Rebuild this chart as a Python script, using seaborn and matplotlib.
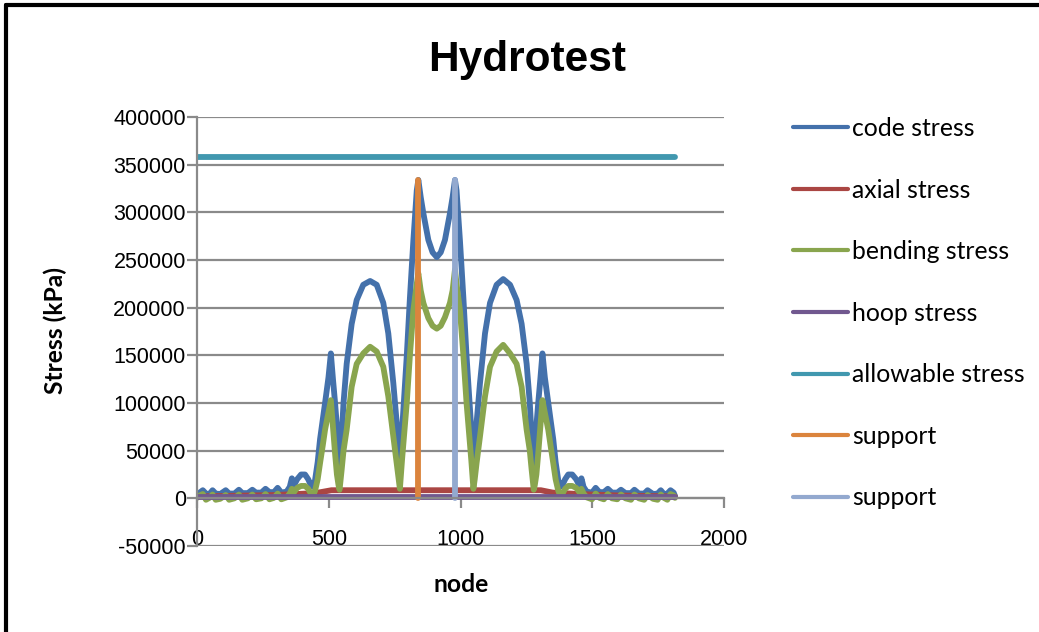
import matplotlib
matplotlib.use("Agg")
import matplotlib.pyplot as plt
from matplotlib import font_manager
from matplotlib.font_manager import FontProperties
from matplotlib.lines import Line2D
import seaborn as sns

# ---- data -------------------------------------------------------------
nodes = [
    0, 10, 22, 34, 47, 59, 71, 88, 109, 122, 142, 159, 172, 193, 210, 224, 244, 260, 275, 292, 306, 320, 340, 352,
    360, 367, 380, 395, 410, 422, 432, 441, 448, 458, 467, 477, 486, 499, 508, 516, 524, 531, 537, 541,
    549, 556, 568, 587, 606, 631, 657, 682, 707, 726, 745, 758, 765, 770,
    778, 787, 796, 808, 821, 834, 840, 849, 859, 878, 894, 910, 925, 941, 960, 970, 979, 985, 998, 1011, 1023, 1032, 1041,
    1049, 1054, 1061, 1074, 1093, 1112, 1137, 1162, 1188, 1213, 1232, 1251, 1263, 1270,
    1278, 1282, 1288, 1295, 1303, 1311, 1320, 1333, 1342, 1352, 1361, 1371, 1378, 1387, 1397, 1409, 1424, 1439, 1452, 1459,
    1467, 1479, 1499, 1513, 1527, 1544, 1559, 1575, 1595, 1609, 1626, 1647, 1660, 1677, 1697, 1710, 1731, 1748, 1760, 1772, 1785, 1797, 1809, 1814,
]
code_stress = [
    2500, 6000, 8500, 5000, 4500, 8500, 5000, 4500, 8500, 5000, 5000, 9000, 5500, 5500, 9000, 6000, 6000, 10000, 6500, 6500, 11000, 6000, 7000, 12000,
    21000, 13000, 20000, 25000, 25000, 20000, 14000, 12000, 19000, 38000, 62000, 82000, 100000, 127000, 152000, 125000, 100000, 76000, 54000, 36000,
    64000, 100000, 141000, 183000, 208000, 224000, 228000, 224000, 205000, 173000, 121000, 79000, 55000, 38000,
    70000, 110000, 149000, 210000, 270000, 323000, 334000, 316000, 299000, 271000, 258000, 253000, 258000, 271000, 299000, 316000, 334000, 323000, 270000, 210000, 149000, 110000, 70000,
    38000, 55000, 79000, 121000, 173000, 205000, 224000, 230000, 224000, 208000, 183000, 141000, 100000, 64000,
    36000, 54000, 76000, 100000, 125000, 152000, 127000, 100000, 82000, 62000, 38000, 19000, 12000, 14000, 20000, 25000, 25000, 20000, 13000, 21000,
    12000, 7000, 6000, 11000, 6500, 6500, 10000, 6000, 6000, 9000, 5500, 5500, 9000, 5000, 5000, 8500, 4500, 5000, 8500, 4500, 5000, 8500, 6000, 2500,
]
bending_stress = [
    500, 3000, 4500, -1500, 500, 4000, -1500, -500, 3500, -1500, 0, 4000, -1500, 0, 4000, -1000, 0, 4500, -1000, 500, 5000, -1000, 1000, 5000,
    10000, 6000, 11000, 13000, 13000, 10000, 5000, 3000, 8000, 20000, 37000, 55000, 72000, 90000, 103000, 75000, 47000, 25000, 14000, 9000,
    30000, 50000, 72000, 117000, 141000, 152000, 159000, 154000, 138000, 107000, 65000, 37000, 20000, 10000,
    40000, 70000, 100000, 150000, 197000, 225000, 236000, 218000, 205000, 189000, 181000, 178000, 181000, 190000, 205000, 218000, 240000, 225000, 197000, 150000, 100000, 70000, 40000,
    10000, 20000, 37000, 65000, 107000, 138000, 154000, 161000, 152000, 141000, 117000, 72000, 50000, 30000,
    9000, 14000, 25000, 47000, 75000, 103000, 90000, 72000, 55000, 37000, 20000, 8000, 3000, 5000, 10000, 13000, 13000, 11000, 6000, 10000,
    5000, 1000, -1000, 5000, 500, -1000, 4500, 0, -1000, 4000, 0, -1500, 4000, 0, -1500, 3500, -500, -1500, 4000, 500, -1500, 4500, 3000, 500,
]

axial_nodes = [0, 300, 450, 510, 1305, 1350, 1450, 1600, 1814]
axial_stress = [2000, 3500, 5500, 8500, 8500, 6000, 4500, 3000, 2000]

hoop_nodes = [0, 1814]
hoop_stress = [1500, 1500]

allowable_nodes = [0, 1814]
allowable_stress = [358000, 358000]

support1_nodes = [840, 840]
support2_nodes = [979, 979]
support_stress = [0, 334000]

y_ticks = list(range(-50000, 400001, 50000))
x_ticks = [0, 500, 1000, 1500, 2000]

# ---- style ------------------------------------------------------------
sns.set_theme(style="white")
names = {f.name for f in font_manager.fontManager.ttflist}
label_font = "Lato" if "Lato" in names else "DejaVu Sans"
plt.rcParams["font.family"] = ["Liberation Sans", "DejaVu Sans"]
plt.rcParams["text.color"] = "black"

fig = plt.figure(figsize=(10.39, 6.32), dpi=100)
renderer = fig.canvas.get_renderer()


def fit_size(text, props, target_px):
    """Font size (pt) at which `text` is target_px wide."""
    p = props.copy()
    p.set_size(20)
    t = fig.text(0, 0, text, fontproperties=p)
    w = t.get_window_extent(renderer).width
    t.remove()
    return 20 * target_px / w


tick_size = 15.5
title_props = FontProperties(family="Liberation Sans", weight="bold")
title_size = fit_size("Hydrotest", title_props, 198)
axis_props = FontProperties(family=label_font, weight="bold")
axis_size = fit_size("Stress (kPa)", axis_props, 127)
legend_props = FontProperties(family=label_font)
legend_size = fit_size("allowable stress", legend_props, 172)

ax = fig.add_axes([197 / 1039, 86 / 632, 527 / 1039, 429 / 632])

grid_col = "#8a8a8a"
lw = 4.2
series = [
    (nodes, code_stress, "code stress", "#4471AB"),
    (axial_nodes, axial_stress, "axial stress", "#AA4643"),
    (nodes, bending_stress, "bending stress", "#89A54E"),
    (hoop_nodes, hoop_stress, "hoop stress", "#71588F"),
    (allowable_nodes, allowable_stress, "allowable stress", "#4198AF"),
    (support1_nodes, support_stress, "support", "#DB843D"),
    (support2_nodes, support_stress, "support", "#93A9CF"),
]
for xs, ys, name, col in series:
    sns.lineplot(x=xs, y=ys, ax=ax, color=col, linewidth=lw, sort=False, estimator=None,
                 label=name, solid_capstyle="round", solid_joinstyle="round")

ax.set_xlim(0, 2000)
ax.set_ylim(-50000, 400000)
ax.set_yticks(y_ticks)
ax.set_yticklabels([str(v) for v in y_ticks])
ax.set_xticks(x_ticks)
ax.set_xticklabels([str(v) for v in x_ticks])
ax.yaxis.grid(True, color=grid_col, lw=1.6)
ax.xaxis.grid(False)
ax.set_axisbelow(True)

for side in ("top", "right"):
    ax.spines[side].set_visible(False)
ax.spines["bottom"].set_position(("data", 0))
for side in ("left", "bottom"):
    ax.spines[side].set_color(grid_col)
    ax.spines[side].set_linewidth(1.6)

ax.tick_params(axis="y", direction="out", length=7, width=1.6, color=grid_col, pad=1,
               left=True, labelsize=tick_size, labelcolor="black")
ax.tick_params(axis="x", direction="out", length=7, width=1.6, color=grid_col, pad=15,
               bottom=True, labelsize=tick_size, labelcolor="black")

ax.set_xlabel("")
ax.set_ylabel("")
fig.text(461 / 1039, 1 - 585 / 632, "node", ha="center", va="center", color="black",
         fontproperties=axis_props, fontsize=axis_size)
fig.text(55 / 1039, 1 - 331 / 632, "Stress (kPa)", ha="center", va="center", rotation=90,
         color="black", fontproperties=axis_props, fontsize=axis_size)

fig.text(527 / 1039, 1 - 71 / 632, "Hydrotest", ha="center", va="baseline", color="black",
         fontproperties=title_props, fontsize=title_size)

handles, labels = ax.get_legend_handles_labels()
ax.get_legend().remove()
legend_px = legend_size * 100 / 72
leg = fig.legend(handles, labels, loc="upper left", bbox_to_anchor=(793 / 1039, 1 - 117 / 632),
                 frameon=False, borderpad=0, borderaxespad=0, handlelength=55 / legend_px,
                 handletextpad=4 / legend_px, labelspacing=1.56,
                 prop={"family": label_font, "size": legend_size})
# legend keys are drawn thinner than the plotted lines
for key in leg.get_lines():
    key.set_linewidth(3.0)
for t in leg.get_texts():
    t.set_color("black")

# outer frame of the chart
fig.add_artist(Line2D([6 / 1039, 6 / 1039], [0, 1 - 5 / 632], color="black", lw=3,
                      transform=fig.transFigure))
fig.add_artist(Line2D([6 / 1039, 1], [1 - 5 / 632, 1 - 5 / 632], color="black", lw=3,
                      transform=fig.transFigure))

fig.savefig("out.png", dpi=100, facecolor="white")
